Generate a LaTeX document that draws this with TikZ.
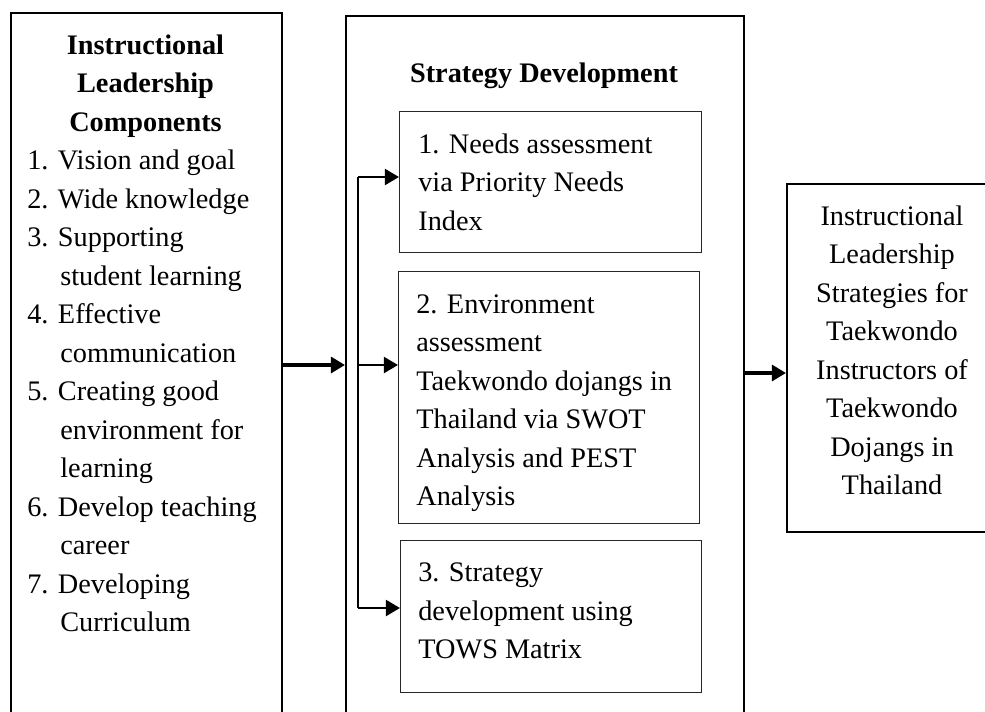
\documentclass[tikz,border=0pt]{standalone}
\usepackage{fontspec}
\setmainfont{Liberation Serif}
\usetikzlibrary{arrows.meta,positioning}
\newcommand{\firststrut}{\rule{0pt}{14pt}}
\newcommand{\itemcont}{\hspace*{0.66cm}}
\tikzset{
  frame/.style={draw, line width=1pt, rectangle, inner sep=0pt, anchor=north west},
  stepbox/.style={draw=black!85, line width=0.8pt, rectangle, inner sep=0pt, anchor=north west},
  body/.style={inner sep=0pt, font=\fontsize{16.1}{21.9}\selectfont},
  bigarrow/.style={line width=2.5pt, -{Triangle[length=8pt,width=9pt]}},
  smallarrow/.style={line width=1.5pt, -{Triangle[length=8pt,width=9pt]}},
}

\begin{document}
\begin{tikzpicture}[x=0.02cm,y=-0.02cm]
	\useasboundingbox (0,0) rectangle (985,711);
	\clip (0,0) rectangle (985,711);
	
	% the three columns
	\node[frame, minimum width=5.42cm, minimum height=15cm] (comp) at (10,12) {};
	\node[frame, minimum width=7.96cm, minimum height=15cm] (strat) at (345,15) {};
	\node[frame, line width=0.9pt, minimum width=4.24cm, minimum height=6.96cm] (result) at (786,183) {};
	
	\node[stepbox, minimum width=6.04cm, minimum height=2.82cm] (needs) at (399,111) {};
	\node[stepbox, minimum width=6.02cm, minimum height=5.04cm] (env) at (398,271) {};
	\node[stepbox, minimum width=6.02cm, minimum height=3.04cm] (tows) at (400,540) {};
	
	% texts
	\node[body, anchor=north, align=center, font=\fontsize{16.1}{21.9}\selectfont\bfseries] (compHead) at (145.5,29.4)
	  {\firststrut Instructional\\Leadership\\Components};
	\node[body, anchor=north west, align=left] (compList) at (27,144.9)
	  {\firststrut 1. Vision and goal\\
	   2. Wide knowledge\\
	   3. Supporting\\
	   \itemcont student learning\\
	   4. Effective\\
	   \itemcont communication\\
	   5. Creating good\\
	   \itemcont environment for\\
	   \itemcont learning\\
	   6. Develop teaching\\
	   \itemcont career\\
	   7. Developing\\
	   \itemcont Curriculum};
	
	\node[body, anchor=base, font=\fontsize{16.1}{21.9}\selectfont\bfseries] (stratHead) at (544,82) {Strategy Development};
	\node[body, anchor=north west, align=left] (needsText) at (418,128.4)
	  {\firststrut 1. Needs assessment\\via Priority Needs\\Index};
	\node[body, anchor=north west, align=left] (envText) at (416,288.4)
	  {\firststrut 2. Environment\\assessment\\Taekwondo dojangs in\\Thailand via SWOT\\Analysis and PEST\\Analysis};
	\node[body, anchor=north west, align=left] (towsText) at (418,557)
	  {\firststrut 3. Strategy\\development using\\TOWS Matrix};
	
	\node[body, anchor=north, align=center] (resultText) at (892,200.4)
	  {\firststrut Instructional\\Leadership\\Strategies for\\Taekwondo\\Instructors of\\Taekwondo\\Dojangs in\\Thailand};
	
	% connectors
	\coordinate (fork1) at (358,177);
	\coordinate (fork2) at (358,365);
	\coordinate (fork3) at (358,608);
	\coordinate (outlevel) at (0,373);
	
	\draw[bigarrow] (comp.east |- fork2) -- (strat.west |- fork2);
	\draw[line width=1.5pt] (fork1) -- (fork3);
	\draw[smallarrow] (fork1) -- (fork1 -| needs.west);
	\draw[smallarrow] (fork2) -- (fork2 -| env.west);
	\draw[smallarrow] (fork3) -- (fork3 -| tows.west);
	\draw[bigarrow] (strat.east |- outlevel) -- (result.west |- outlevel);
\end{tikzpicture}
\end{document}
